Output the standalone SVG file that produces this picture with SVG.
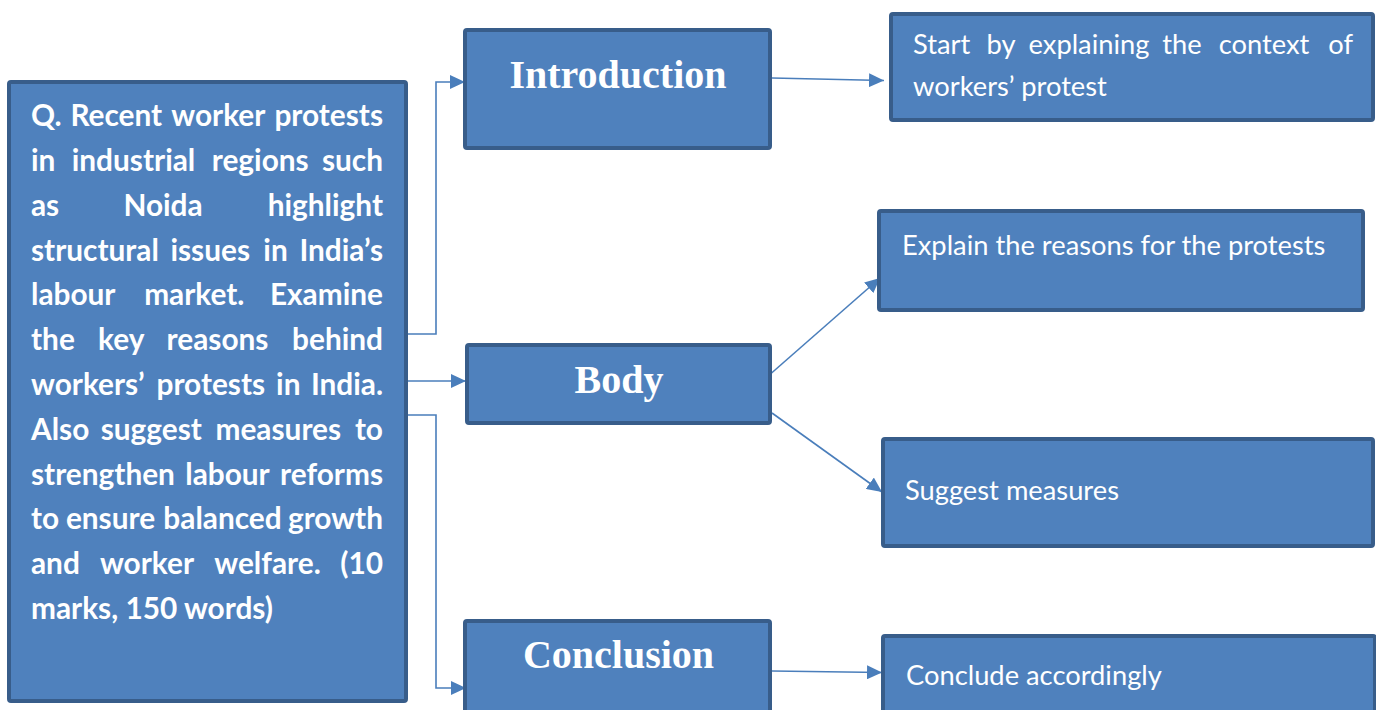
<svg xmlns="http://www.w3.org/2000/svg" width="1376" height="710" viewBox="0 0 1376 710">
<style>
.box{fill:#4F81BD;stroke:#385D8A;stroke-width:4}
.q{font-family:Lato,"Open Sans","Liberation Sans",sans-serif;font-weight:bold;font-size:29.8px;fill:#FFFFFF}
.t{font-family:Lato,"Open Sans","Liberation Sans",sans-serif;font-size:27.3px;fill:#FFFFFF}
.h{font-family:"Liberation Serif","DejaVu Serif",serif;font-weight:bold;font-size:40px;fill:#FFFFFF;text-anchor:middle}
.m{text-anchor:middle}
.e{text-anchor:end}
.c{fill:none;stroke:#4A7EBB;stroke-width:1.6;marker-end:url(#ah)}
</style>
<defs>
<marker id="ah" markerUnits="userSpaceOnUse" markerWidth="15" markerHeight="14" refX="15" refY="7" orient="auto">
<path d="M0,0 L15,7 L0,14 Z" fill="#4A7EBB"/>
</marker>
</defs>
<rect width="1376" height="710" fill="#FFFFFF"/>
<g id="connectors">
<path class="c" d="M408,334 H436 V82 H465"/>
<path class="c" d="M408,381 H466"/>
<path class="c" d="M408,415 H436 V688 H466"/>
<path class="c" d="M772,78 L884,80.5"/>
<path class="c" d="M767,377 L880,278"/>
<path class="c" d="M772,413 L882,492"/>
<path class="c" d="M772,671 L882,672.5"/>
</g>
<g id="question">
<rect class="box" x="9" y="82" width="397" height="619" rx="2"/>
<text class="q" y="126"><tspan x="31">Q.</tspan><tspan x="116.3" class="m">Recent</tspan><tspan x="218.3" class="m">worker</tspan><tspan x="383" class="e">protests</tspan></text>
<text class="q" y="170.8"><tspan x="31">in</tspan><tspan x="133.5" class="m">industrial</tspan><tspan x="260.2" class="m">regions</tspan><tspan x="383" class="e">such</tspan></text>
<text class="q" y="215.6"><tspan x="31">as</tspan><tspan x="163" class="m">Noida</tspan><tspan x="383" class="e">highlight</tspan></text>
<text class="q" y="260.5"><tspan x="31">structural</tspan><tspan x="210.2" class="m">issues</tspan><tspan x="275.5" class="m">in</tspan><tspan x="383" class="e">India’s</tspan></text>
<text class="q" y="305.3"><tspan x="31">labour</tspan><tspan x="194.3" class="m">market.</tspan><tspan x="383" class="e">Examine</tspan></text>
<text class="q" y="350.1"><tspan x="31">the</tspan><tspan x="121.2" class="m">key</tspan><tspan x="217.5" class="m">reasons</tspan><tspan x="383" class="e">behind</tspan></text>
<text class="q" y="394.9"><tspan x="31">workers’</tspan><tspan x="210.8" class="m">protests</tspan><tspan x="288.3" class="m">in</tspan><tspan x="383" class="e">India.</tspan></text>
<text class="q" y="439.7"><tspan x="31">Also</tspan><tspan x="151.3" class="m">suggest</tspan><tspan x="278.3" class="m">measures</tspan><tspan x="383" class="e">to</tspan></text>
<text class="q" y="484.5"><tspan x="31">strengthen</tspan><tspan x="227.5" class="m">labour</tspan><tspan x="383" class="e">reforms</tspan></text>
<text class="q" y="529.4"><tspan x="31">to</tspan><tspan x="110.5" class="m">ensure</tspan><tspan x="222.5" class="m">balanced</tspan><tspan x="383" class="e">growth</tspan></text>
<text class="q" y="574.2"><tspan x="31">and</tspan><tspan x="147" class="m">worker</tspan><tspan x="267.5" class="m">welfare.</tspan><tspan x="383" class="e">(10</tspan></text>
<text class="q" x="31" y="619">marks, 150 words)</text>
</g>
<g id="introduction">
<rect class="box" x="465" y="30" width="305" height="118" rx="2"/>
<text class="h" x="618" y="88">Introduction</text>
</g>
<g id="body">
<rect class="box" x="467" y="345" width="303" height="78" rx="2"/>
<text class="h" x="619" y="393">Body</text>
</g>
<g id="conclusion">
<rect class="box" x="465" y="621" width="305" height="100" rx="2"/>
<text class="h" x="618.5" y="668">Conclusion</text>
</g>
<g id="start">
<rect class="box" x="891" y="14" width="482" height="106" rx="2"/>
<text class="t" y="54"><tspan x="913">Start</tspan><tspan x="1001" class="m">by</tspan><tspan x="1089" class="m">explaining</tspan><tspan x="1182" class="m">the</tspan><tspan x="1264" class="m">context</tspan><tspan x="1353" class="e">of</tspan></text>
<text class="t" x="913" y="96">workers’ protest</text>
</g>
<g id="explain">
<rect class="box" x="879" y="211" width="484" height="99" rx="2"/>
<text class="t" x="902" y="255">Explain the reasons for the protests</text>
</g>
<g id="suggest">
<rect class="box" x="883" y="439" width="490" height="107" rx="2"/>
<text class="t" x="905" y="500">Suggest measures</text>
</g>
<g id="conclude">
<rect class="box" x="883" y="636" width="492" height="90" rx="2"/>
<text class="t" x="906" y="685">Conclude accordingly</text>
</g>
</svg>
